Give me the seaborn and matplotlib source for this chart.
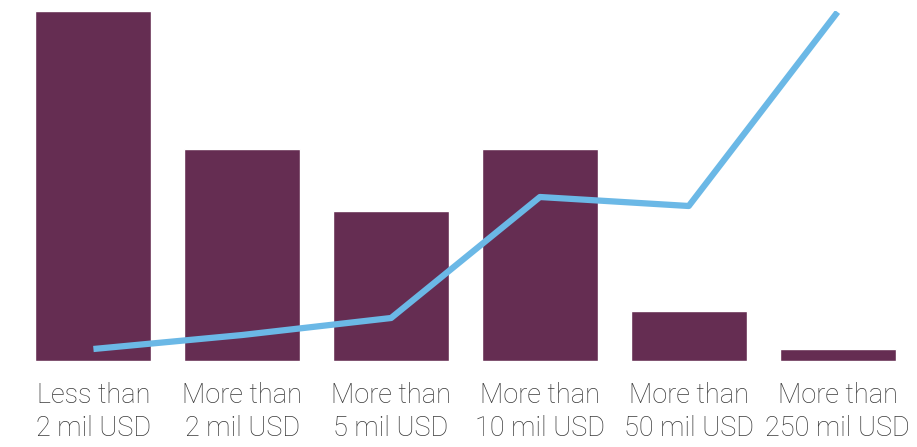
import matplotlib
matplotlib.use("Agg")
import matplotlib.pyplot as plt
import seaborn as sns
import pandas as pd

categories = ["Less than\n2 mil USD", "More than\n2 mil USD", "More than\n5 mil USD",
              "More than\n10 mil USD", "More than\n50 mil USD", "More than\n250 mil USD"]
bar_values = [35.0, 21.2, 15.0, 21.2, 5.0, 1.2]
line_values = [1.2, 2.6, 4.3, 16.4, 15.5, 34.9]

sns.set_theme(style="white")
plt.rcParams['font.family'] = ['Roboto', 'DejaVu Sans']

df = pd.DataFrame({"category": categories, "bars": bar_values, "line": line_values})

fig = plt.figure(figsize=(9.17, 4.47), dpi=100)
W, H = 917, 447
ax = fig.add_axes([19 / W, (H - 361) / H, 893 / W, 350 / H])

sns.barplot(data=df, x="category", y="bars", color="#652d52", saturation=1,
            width=0.78, ax=ax)
ax.set_xlim(-0.5, 5.5)
ax.set_ylim(0, 35)

ax2 = ax.twinx()
sns.lineplot(x=list(range(len(categories))), y=df["line"], color="#6bb8e6",
             linewidth=4.5, ax=ax2, solid_capstyle="butt")
ax2.set_ylim(0, 35)
ax2.set_xlim(-0.5, 5.5)

for a in (ax, ax2):
    for s in a.spines.values():
        s.set_visible(False)
    a.set_ylabel("")
    a.set_yticks([])
ax.set_xlabel("")
ax.tick_params(axis="x", length=0, pad=15, labelsize=19.5, labelcolor="#3a3a3a")
for t in ax.get_xticklabels():
    t.set_fontweight("light")
    t.set_linespacing(1.3)

fig.savefig("out.png", dpi=100, facecolor="white")
